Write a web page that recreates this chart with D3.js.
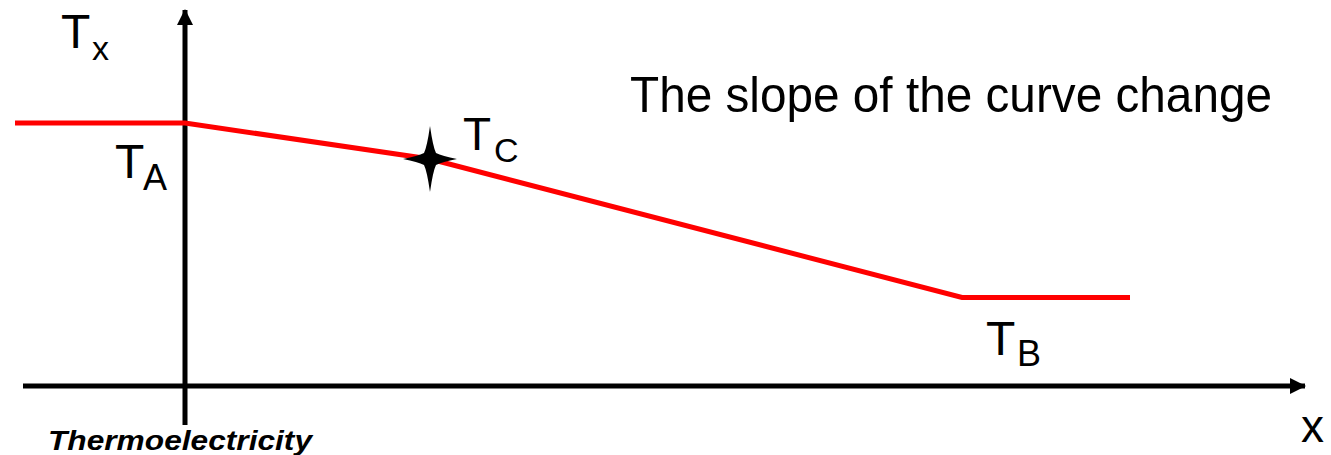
<!DOCTYPE html>
<html>
<head>
<meta charset="utf-8">
<script src="https://cdn.jsdelivr.net/npm/d3@7"></script>
<style>
  body { margin: 0; background: #fff; }
  svg { display: block; font-family: "Liberation Sans", Arial, sans-serif; }
</style>
</head>
<body>
<div id="chart"></div>
<script>
// Temperature profile T(x), in arbitrary units (y axis sits at x = 0)
const profileX = [-1.70, 0, 2.45, 7.77, 9.45];
const profileT = [2.63, 2.63, 2.27, 0.885, 0.885];

// Marked point T_C where the slope changes
const markX = 2.45;
const markT = 2.27;

// Axis extents
const xAxisExtent = [-1.62, 11.2];
const yAxisExtent = [-0.39, 3.76];

const width = 1331;
const height = 455;

// Scales: 1 unit = 100 px, origin at (185, 386)
const x = d3.scaleLinear().domain([0, 1]).range([185, 285]);
const y = d3.scaleLinear().domain([0, 1]).range([386, 286]);

const svg = d3.select("#chart")
  .append("svg")
  .attr("width", width)
  .attr("height", height);

// Arrow heads
const defs = svg.append("defs");
defs.append("marker")
  .attr("id", "arrow")
  .attr("viewBox", "0 0 16 16")
  .attr("refX", 15)
  .attr("refY", 8)
  .attr("markerWidth", 16)
  .attr("markerHeight", 16)
  .attr("markerUnits", "userSpaceOnUse")
  .attr("orient", "auto")
  .append("path")
  .attr("d", "M0,0 L16,8 L0,16 Z")
  .attr("fill", "#000");

// x axis
svg.append("line")
  .attr("x1", x(xAxisExtent[0]))
  .attr("x2", x(xAxisExtent[1]))
  .attr("y1", y(0))
  .attr("y2", y(0))
  .attr("stroke", "#000")
  .attr("stroke-width", 5)
  .attr("marker-end", "url(#arrow)");

// y axis
svg.append("line")
  .attr("x1", x(0))
  .attr("x2", x(0))
  .attr("y1", y(yAxisExtent[0]))
  .attr("y2", y(yAxisExtent[1]))
  .attr("stroke", "#000")
  .attr("stroke-width", 5)
  .attr("marker-end", "url(#arrow)");

// Red temperature curve
const line = d3.line()
  .x(d => x(d[0]))
  .y(d => y(d[1]));

svg.append("path")
  .datum(d3.zip(profileX, profileT))
  .attr("d", line)
  .attr("fill", "none")
  .attr("stroke", "#ff0000")
  .attr("stroke-width", 5)
  .attr("stroke-linejoin", "miter");

// Four-pointed star at T_C (tapered arms)
const star = d3.path();
const sv = 33, sh = 27, c = 6, q = 3;
star.moveTo(0, -sv);
star.quadraticCurveTo(q, -c - 6, c, -c);
star.quadraticCurveTo(c + 6, -q, sh, 0);
star.quadraticCurveTo(c + 6, q, c, c);
star.quadraticCurveTo(q, c + 6, 0, sv);
star.quadraticCurveTo(-q, c + 6, -c, c);
star.quadraticCurveTo(-c - 6, q, -sh, 0);
star.quadraticCurveTo(-c - 6, -q, -c, -c);
star.quadraticCurveTo(-q, -c - 6, 0, -sv);
star.closePath();

svg.append("path")
  .attr("d", star.toString())
  .attr("transform", "translate(" + x(markX) + "," + y(markT) + ")")
  .attr("fill", "#000");

// Labels with subscripts
function subLabel(tx, ty, main, sub, mainSize, subSize, dx, dy) {
  const t = svg.append("text")
    .attr("x", tx)
    .attr("y", ty)
    .attr("fill", "#000");
  t.append("tspan")
    .attr("font-size", mainSize)
    .text(main);
  t.append("tspan")
    .attr("x", tx + dx)
    .attr("y", ty + dy)
    .attr("font-size", subSize)
    .text(sub);
}

subLabel(61, 48, "T", "x", 48, 34, 31, 12);
subLabel(115, 178, "T", "A", 48, 36, 28, 12);
subLabel(463, 150, "T", "C", 46, 34, 31, 12);
subLabel(986, 355, "T", "B", 48, 36, 31, 11);

// axis label
svg.append("text")
  .attr("x", 1301)
  .attr("y", 442)
  .attr("font-size", 46)
  .text("x");

// annotation
svg.append("text")
  .attr("x", 630)
  .attr("y", 112)
  .attr("font-size", 50)
  .attr("textLength", 642)
  .attr("lengthAdjust", "spacingAndGlyphs")
  .text("The slope of the curve change");

// footer
svg.append("text")
  .attr("x", 48)
  .attr("y", 450)
  .attr("font-size", 28)
  .attr("font-weight", "bold")
  .attr("font-style", "italic")
  .attr("textLength", 264)
  .attr("lengthAdjust", "spacingAndGlyphs")
  .text("Thermoelectricity");
</script>
</body>
</html>
